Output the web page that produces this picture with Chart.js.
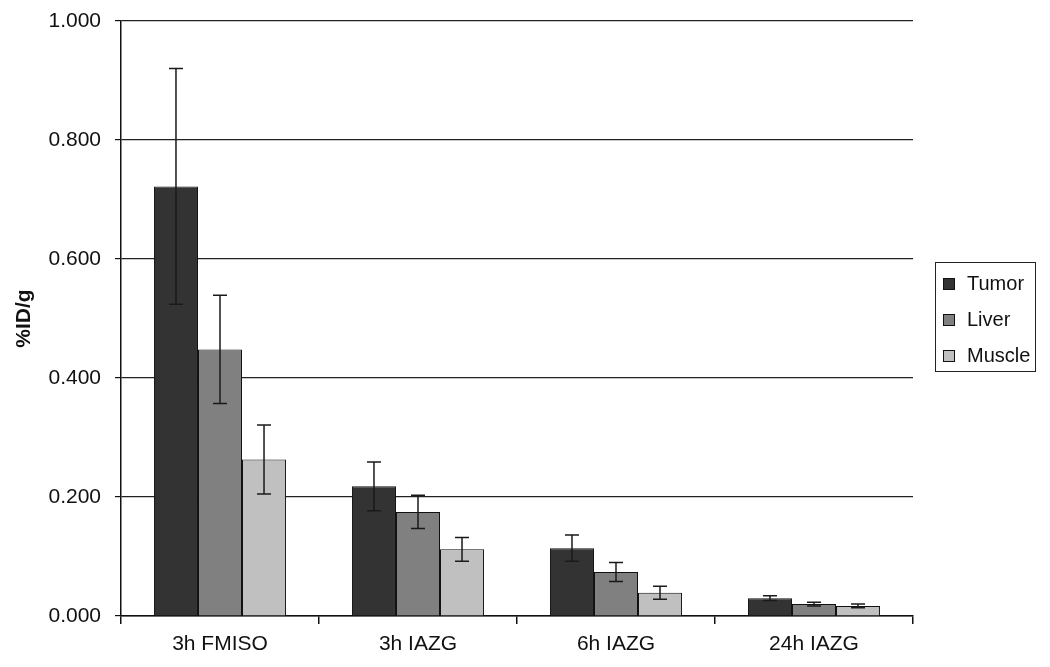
<!DOCTYPE html>
<html>
<head>
<meta charset="utf-8">
<script src="https://cdn.jsdelivr.net/npm/chart.js@4"></script>
<style>
  body { margin: 0; background: #fff; }
  #wrap { position: relative; width: 1050px; height: 667px; }
  #legend {
    position: absolute; left: 935px; top: 262px; width: 101px; height: 110px;
    border: 1.5px solid #222; box-sizing: border-box;
    font-family: "Liberation Sans", Arial, sans-serif; font-size: 20px; color: #111;
  }
  #legend .item { position: absolute; left: 7px; height: 22px; line-height: 22px; white-space: nowrap; }
  #legend .sw { display: inline-block; width: 10px; height: 10px; border: 1px solid #111; vertical-align: middle; margin-right: 12px; position: relative; top: -1px; }
</style>
</head>
<body>
<div id="wrap">
  <canvas id="chart" width="1050" height="667"></canvas>
  <div id="legend"></div>
</div>
<script>
const categories = ['3h FMISO', '3h IAZG', '6h IAZG', '24h IAZG'];
const tumor = [0.722, 0.218, 0.114, 0.030];
const tumorErr = [0.198, 0.041, 0.022, 0.004];
const liver = [0.448, 0.175, 0.074, 0.020];
const liverErr = [0.091, 0.028, 0.016, 0.003];
const muscle = [0.263, 0.112, 0.039, 0.017];
const muscleErr = [0.058, 0.020, 0.011, 0.003];
const yTicks = [0, 0.2, 0.4, 0.6, 0.8, 1.0];

const font = "'Liberation Sans', Arial, sans-serif";

// error bars drawn from the y scale
const errorBars = {
    id: 'errorBars',
    afterDatasetsDraw(chart) {
        const ctx = chart.ctx;
        const y = chart.scales.y;
        ctx.save();
        ctx.strokeStyle = '#1a1a1a';
        ctx.lineWidth = 1.5;
        chart.data.datasets.forEach((ds, i) => {
            chart.getDatasetMeta(i).data.forEach((bar, j) => {
                const v = ds.data[j], e = ds.errors[j];
                const top = y.getPixelForValue(v + e);
                const bot = y.getPixelForValue(v - e);
                const cap = 7;
                ctx.beginPath();
                ctx.moveTo(bar.x, top); ctx.lineTo(bar.x, bot);
                ctx.moveTo(bar.x - cap, top); ctx.lineTo(bar.x + cap, top);
                ctx.moveTo(bar.x - cap, bot); ctx.lineTo(bar.x + cap, bot);
                ctx.stroke();
            });
        });
        ctx.restore();
    }
};

const chart = new Chart(document.getElementById('chart'), {
    type: 'bar',
    data: {
        labels: categories,
        datasets: [
            { label: 'Tumor', data: tumor, errors: tumorErr, backgroundColor: '#333333' },
            { label: 'Liver', data: liver, errors: liverErr, backgroundColor: '#808080' },
            { label: 'Muscle', data: muscle, errors: muscleErr, backgroundColor: '#c0c0c0' }
        ].map(d => Object.assign(d, {
            borderColor: '#111', borderWidth: 1,
            categoryPercentage: 0.667, barPercentage: 1.0
        }))
    },
    options: {
        responsive: false,
        animation: false,
        layout: { padding: { top: 21, right: 137, bottom: 0, left: 0 } },
        plugins: { legend: { display: false }, tooltip: { enabled: false } },
        scales: {
            x: {
                afterFit: s => { s.height = 51; },
                grid: {
                    offset: true,
                    drawOnChartArea: true,
                    color: c => c.index === categories.length ? '#111' : 'transparent',
                    tickColor: '#111',
                    tickLength: 8,
                    lineWidth: 1.5
                },
                border: { color: '#111', width: 1.5 },
                ticks: { color: '#111', padding: 8, font: { family: font, size: 21 } }
            },
            y: {
                min: 0, max: 1,
                afterFit: s => { s.width = 121; s.paddingTop = 0; s.paddingBottom = 0; },
                afterBuildTicks: s => { s.ticks = yTicks.map(v => ({ value: v })); },
                grid: { color: '#222', tickColor: '#111', tickLength: 6, lineWidth: 1.2 },
                border: { color: '#111', width: 1.5 },
                ticks: {
                    color: '#111', padding: 14,
                    font: { family: font, size: 21 },
                    callback: v => Number(v).toFixed(3)
                },
                title: {
                    display: true, text: '%ID/g', color: '#111',
                    padding: { top: 12, bottom: 0 },
                    font: { family: font, size: 21, weight: 'bold' }
                }
            }
        }
    },
    plugins: [errorBars]
});

// legend box from the dataset list
const legend = document.getElementById('legend');
chart.data.datasets.forEach((ds, i) => {
    const item = document.createElement('div');
    item.className = 'item';
    item.style.top = (9 + i * 36) + 'px';
    item.innerHTML = '<span class="sw" style="background:' + ds.backgroundColor + '"></span>' + ds.label;
    legend.appendChild(item);
});
</script>
</body>
</html>
